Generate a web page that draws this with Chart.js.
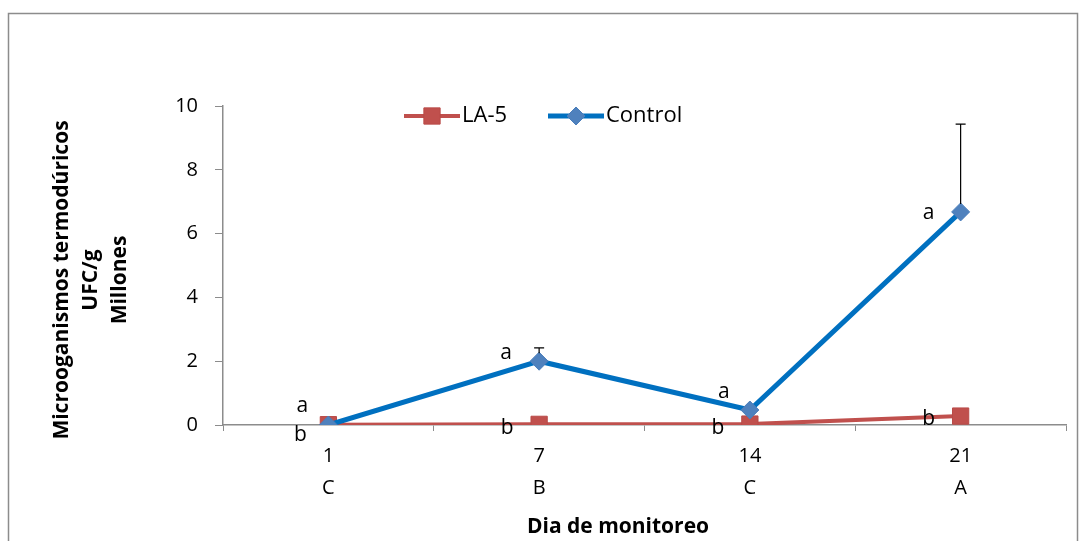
<!DOCTYPE html>
<html>
<head>
<meta charset="utf-8">
<script src="https://cdn.jsdelivr.net/npm/chart.js@4.4.1/dist/chart.umd.min.js"></script>
<style>
  body { margin: 0; background: #fff; }
  #wrap { width: 1081px; height: 541px; }
</style>
</head>
<body>
<div id="wrap"><canvas id="chart"></canvas></div>
<script>
// dias de monitoreo y letras de comparacion entre dias
const dias = ['1', '7', '14', '21'];
const letrasDia = ['C', 'B', 'C', 'A'];

// UFC/g en millones
const la5 = [0.01, 0.02, 0.03, 0.28];
const control = [0.0, 2.0, 0.47, 6.68];
const controlError = [0, 0.42, 0, 2.75]; // solo hacia arriba

// letras de significancia sobre cada punto
const letrasControl = ['a', 'a', 'a', 'a'];
const letrasLa5 = ['b', 'b', 'b', 'b'];

const yTicks = [0, 2, 4, 6, 8, 10];

const tituloX = 'Dia de monitoreo';
const tituloY = ['Microoganismos termodúricos', 'UFC/g', 'Millones'];

const FONT = '"Open Sans", Lato, sans-serif';
const GRIS = '#8c8c8c';

// borde exterior y fondo
const bordePlugin = {
  id: 'borde',
  beforeDraw(chart) {
    const ctx = chart.ctx;
    ctx.save();
    ctx.fillStyle = '#fff';
    ctx.fillRect(0, 0, chart.width, chart.height);
    ctx.strokeStyle = GRIS;
    ctx.lineWidth = 1.5;
    ctx.strokeRect(8.5, 13.5, chart.width - 12, chart.height + 10);
    ctx.restore();
  }
};

// titulos de los ejes (excel los descentra un poco)
const titulosPlugin = {
  id: 'titulos',
  afterDraw(chart) {
    const ctx = chart.ctx;
    ctx.save();
    ctx.fillStyle = '#000';
    ctx.font = 'bold 21px ' + FONT;
    ctx.textAlign = 'center';
    ctx.textBaseline = 'middle';
    ctx.fillText(tituloX, 618, 527);
    ctx.translate(62, 280);
    ctx.rotate(-Math.PI / 2);
    tituloY.forEach((t, i) => ctx.fillText(t, 0, i * 29));
    ctx.restore();
  }
};

// barras de error (solo positivas) del control
const errorPlugin = {
  id: 'errores',
  afterDatasetsDraw(chart) {
    const ctx = chart.ctx;
    const x = chart.scales.x, y = chart.scales.y;
    ctx.save();
    ctx.strokeStyle = '#000';
    ctx.lineWidth = 1.2;
    controlError.forEach((e, i) => {
      if (!e) return;
      const px = x.getPixelForValue(i);
      const y0 = y.getPixelForValue(control[i]);
      const y1 = y.getPixelForValue(control[i] + e);
      ctx.beginPath();
      ctx.moveTo(px, y0 - 8);
      ctx.lineTo(px, y1);
      ctx.moveTo(px - 5, y1);
      ctx.lineTo(px + 5, y1);
      ctx.stroke();
    });
    ctx.restore();
  }
};

// letras a / b junto a los puntos
const letrasPlugin = {
  id: 'letras',
  afterDatasetsDraw(chart) {
    const ctx = chart.ctx;
    const x = chart.scales.x, y = chart.scales.y;
    const offA = [[-26, -19], [-33, -8], [-26, -18], [-32, 1]];
    const offB = [[-28, 10], [-32, 4], [-32, 4], [-32, 3]];
    ctx.save();
    ctx.fillStyle = '#000';
    ctx.font = '21px ' + FONT;
    ctx.textAlign = 'center';
    ctx.textBaseline = 'middle';
    dias.forEach((d, i) => {
      const px = x.getPixelForValue(i);
      ctx.fillText(letrasControl[i], px + offA[i][0], y.getPixelForValue(control[i]) + offA[i][1]);
      ctx.fillText(letrasLa5[i], px + offB[i][0], y.getPixelForValue(la5[i]) + offB[i][1]);
    });
    ctx.restore();
  }
};

// leyenda con linea + marcador, dentro del area del grafico
const leyendaPlugin = {
  id: 'leyenda',
  afterDraw(chart) {
    const ctx = chart.ctx;
    const ds = chart.data.datasets;
    const yy = 116;
    const items = [
      { x: 404, ds: ds[0], style: 'rect', r: 11.5 },
      { x: 548, ds: ds[1], style: 'rectRot', r: 9 }
    ];
    ctx.save();
    items.forEach(it => {
      ctx.strokeStyle = it.ds.borderColor;
      ctx.lineWidth = it.ds.borderWidth;
      ctx.beginPath();
      ctx.moveTo(it.x, yy);
      ctx.lineTo(it.x + 56, yy);
      ctx.stroke();
      ctx.fillStyle = it.ds.pointBackgroundColor;
      ctx.strokeStyle = it.ds.pointBorderColor;
      ctx.lineWidth = 1;
      Chart.helpers.drawPoint(ctx, { pointStyle: it.style, radius: it.r, borderWidth: 1 }, it.x + 28, yy);
      ctx.fillStyle = '#000';
      ctx.font = '22px ' + FONT;
      ctx.textBaseline = 'middle';
      ctx.textAlign = 'left';
      ctx.fillText(it.ds.label, it.x + 58, yy);
    });
    ctx.restore();
  }
};

new Chart(document.getElementById('chart'), {
  type: 'line',
  data: {
    labels: dias.map((d, i) => [d, letrasDia[i]]),
    datasets: [
      {
        label: 'LA-5',
        data: la5,
        borderColor: '#C0504D',
        borderWidth: 4,
        pointStyle: 'rect',
        pointRadius: 11.5,
        pointHoverRadius: 11.5,
        pointBackgroundColor: '#C0504D',
        pointBorderColor: '#B94A47',
        pointBorderWidth: 1,
        order: 1
      },
      {
        label: 'Control',
        data: control,
        borderColor: '#0070C0',
        borderWidth: 5,
        pointStyle: 'rectRot',
        pointRadius: 9,
        pointHoverRadius: 9,
        pointBackgroundColor: '#4F81BD',
        pointBorderColor: '#4A7EBB',
        pointBorderWidth: 1,
        order: 0
      }
    ]
  },
  options: {
    responsive: true,
    maintainAspectRatio: false,
    animation: false,
    layout: { padding: { top: 106, right: 15, left: 0, bottom: 0 } },
    plugins: {
      legend: { display: false },
      tooltip: { enabled: false }
    },
    scales: {
      x: {
        offset: true,
        grid: { offset: true, drawOnChartArea: false, tickLength: 6, color: GRIS },
        border: { color: GRIS, width: 1.5 },
        ticks: {
          color: '#000',
          padding: 9,
          font: { family: FONT, size: 20, lineHeight: 1.6 },
          maxRotation: 0
        },
        afterFit(s) { s.height = 116; }
      },
      y: {
        min: 0,
        max: 10,
        afterBuildTicks(s) { s.ticks = yTicks.map(v => ({ value: v })); },
        grid: { drawOnChartArea: false, tickLength: 8, color: GRIS },
        border: { color: GRIS, width: 1.5 },
        ticks: {
          color: '#000',
          padding: 17,
          font: { family: FONT, size: 20 }
        },
        afterFit(s) { s.width = 223; }
      }
    }
  },
  plugins: [bordePlugin, titulosPlugin, errorPlugin, letrasPlugin, leyendaPlugin]
});
</script>
</body>
</html>
